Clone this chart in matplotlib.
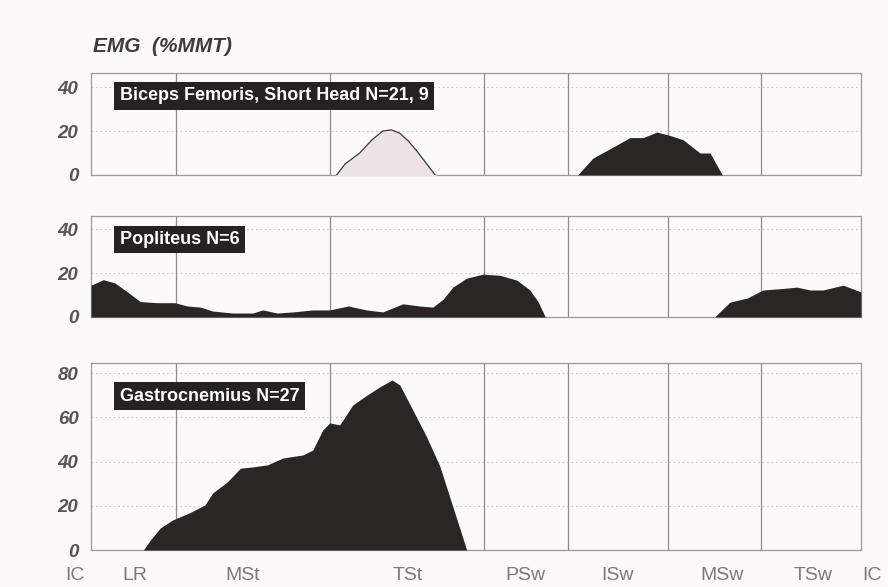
import matplotlib
matplotlib.use("Agg")
import matplotlib.pyplot as plt
import matplotlib.transforms as mtransforms

# gait cycle (% of stride) vs EMG (%MMT)
bf_pct = [31.9, 33.0, 34.9, 36.5, 37.9, 39.0, 40.1, 41.2, 42.3, 43.5, 44.7]
bf_val = [0.0, 5.0, 10.0, 16.0, 20.0, 20.5, 19.0, 15.5, 11.0, 5.5, 0.0]

bf2_pct = [63.2, 65.2, 67.8, 70.0, 71.7, 73.5, 75.2, 76.9, 79.1, 80.4, 82.0]
bf2_val = [0.0, 7.7, 12.7, 17.0, 17.0, 19.5, 18.0, 16.0, 10.0, 10.0, 0.0]

pop_pct = [0.0, 1.6, 3.1, 4.7, 6.4, 8.6, 10.9, 12.5, 14.2, 15.8, 18.4, 21.0, 22.3,
           24.2, 26.2, 28.8, 31.0, 33.4, 35.8, 37.9, 40.5, 42.7, 44.4, 45.7, 47.0,
           48.8, 50.9, 53.1, 55.3, 57.0, 58.1, 59.0, 81.0, 83.0, 85.2, 87.3, 89.9,
           91.7, 93.4, 95.1, 97.7, 100.0]
pop_val = [14.5, 17.0, 15.5, 11.5, 7.0, 6.5, 6.5, 5.0, 4.5, 2.7, 1.8, 1.8, 3.2,
           1.8, 2.3, 3.2, 3.2, 5.0, 3.2, 2.3, 6.0, 5.0, 4.5, 8.0, 13.6,
           17.7, 19.5, 19.0, 16.8, 12.3, 6.8, 0.0, 0.0, 6.8, 8.6, 12.3, 13.0,
           13.6, 12.3, 12.3, 14.5, 11.4]

gas_pct = [6.8, 7.7, 9.0, 10.6, 12.9, 14.8, 15.8, 17.7, 19.4, 21.0, 22.9, 24.9,
           27.5, 28.8, 30.1, 31.0, 32.3, 34.0, 35.8, 37.5, 39.1, 40.1, 41.8, 43.6,
           45.3, 48.8]
gas_val = [0.0, 4.5, 10.0, 13.6, 17.0, 20.4, 25.8, 30.8, 37.0, 37.6, 38.5, 41.6,
           43.0, 45.2, 54.3, 57.5, 56.6, 65.6, 70.0, 73.8, 76.9, 74.7, 63.3, 51.1,
           38.0, 0.0]

phase_lines = [11, 31, 51, 62, 75, 87]
phase_names = ["IC", "LR", "MSt", "TSt", "PSw", "ISw", "MSw", "TSw", "IC"]
phase_label_x = [-2.1, 5.7, 19.7, 41.2, 56.4, 68.4, 81.9, 93.8, 101.4]

bg = "#fbfaf6"
ink = "#2b2622"
frame = "#9a9a9a"

plt.rcParams["font.family"] = ["Liberation Sans", "DejaVu Sans"]

fig = plt.figure(figsize=(8.88, 5.87), dpi=100, facecolor=bg)

panels = [
    # rect, ylim, yticks, name, label y
    ([0.1025, 0.7019, 0.867, 0.1738], 46.4, [0, 20, 40], "Biceps Femoris, Short Head N=21, 9", 0.775),
    ([0.1025, 0.4600, 0.867, 0.1720], 46.0, [0, 20, 40], "Popliteus N=6", 0.767),
    ([0.1025, 0.0630, 0.867, 0.3186], 84.6, [0, 20, 40, 60, 80], "Gastrocnemius N=27", 0.823),
]

axes = []
for rect, ytop, yticks, name, ly in panels:
    ax = fig.add_axes(rect)
    ax.set_facecolor(bg)
    ax.set_xlim(0, 100)
    ax.set_ylim(0, ytop)
    ax.set_xticks([])
    ax.set_yticks(yticks)
    ax.set_yticklabels([str(t) for t in yticks], fontsize=13.5, fontstyle="italic",
                       fontweight="bold", color="#555555")
    ax.tick_params(axis="y", length=0, pad=9)
    for t in yticks[1:]:
        ax.axhline(t, color="#c8c8c8", lw=0.8, ls=(0, (1.5, 2.5)), zorder=1)
    for x in phase_lines:
        ax.axvline(x, color="#8c8c8c", lw=0.9, zorder=2)
    for s in ax.spines.values():
        s.set_color(frame)
        s.set_linewidth(0.9)
    ax.text(0.037, ly, name, transform=ax.transAxes, fontsize=13, fontweight="bold",
            color="white", va="center", ha="left", zorder=6,
            bbox=dict(boxstyle="square,pad=0.3", fc="#262222", ec="none"))
    axes.append(ax)

ax1, ax2, ax3 = axes

ax1.fill_between(bf_pct, bf_val, color="#eee3e3", zorder=3)
ax1.plot(bf_pct, bf_val, color="#3a3a3a", lw=0.9, zorder=4)
ax1.fill_between(bf2_pct, bf2_val, color=ink, lw=0, zorder=3)

ax2.fill_between(pop_pct, pop_val, color=ink, lw=0, zorder=3)
ax3.fill_between(gas_pct, gas_val, color=ink, lw=0, zorder=3)

fig.text(0.105, 0.921, "EMG  (%MMT)", fontsize=15, fontstyle="italic",
         fontweight="bold", color="#3c3c3c", ha="left", va="center")

trans = mtransforms.blended_transform_factory(ax3.transData, ax3.transAxes)
for x, lab in zip(phase_label_x, phase_names):
    ax3.text(x, -0.134, lab, transform=trans, fontsize=14, color="#7a7a7a",
             ha="center", va="center", clip_on=False)

fig.savefig("out.png", dpi=100, facecolor=bg)
